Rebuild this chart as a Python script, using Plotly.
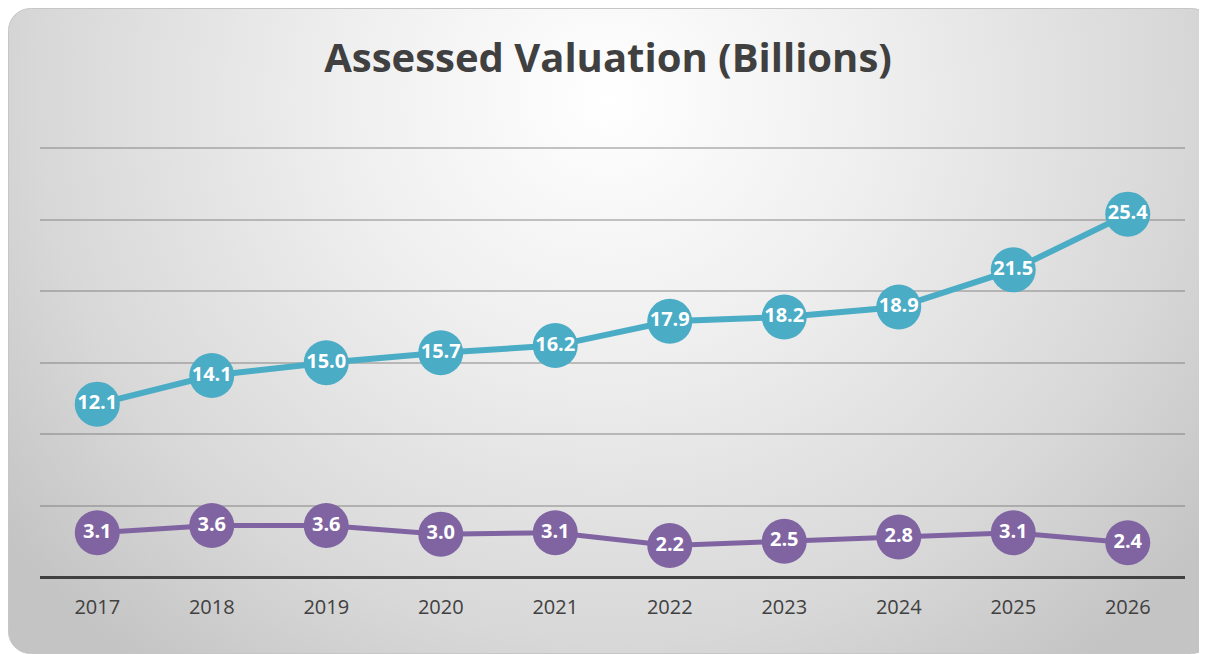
import base64
import plotly.graph_objects as go

years = ["2017", "2018", "2019", "2020", "2021", "2022", "2023", "2024", "2025", "2026"]
series_a = [12.1, 14.1, 15.0, 15.7, 16.2, 17.9, 18.2, 18.9, 21.5, 25.4]
series_b = [3.1, 3.6, 3.6, 3.0, 3.1, 2.2, 2.5, 2.8, 3.1, 2.4]

# page has an 8px body margin; figure coordinates = page - 8
W, H = 1199, 646
ML, MR, MT, MB = 32, 22, 139, 77

svg = f'''<svg xmlns="http://www.w3.org/2000/svg" width="{W}" height="{H}" viewBox="0 0 {W} {H}">
<defs><radialGradient id="g" gradientUnits="userSpaceOnUse" cx="600" cy="90" r="760" gradientTransform="translate(600 90) scale(1 0.95) translate(-600 -90)">
<stop offset="0" stop-color="#ffffff"/><stop offset="0.35" stop-color="#efefef"/><stop offset="0.75" stop-color="#d8d8d8"/><stop offset="1" stop-color="#c4c4c4"/></radialGradient></defs>
<rect x="0.5" y="0.5" width="1205" height="645" rx="22" ry="22" fill="url(#g)" stroke="#c6c6c6" stroke-width="1"/>
</svg>'''
uri = "data:image/svg+xml;base64," + base64.b64encode(svg.encode()).decode()

pw = W - ML - MR
ph = H - MT - MB

label_font = dict(family="Open Sans", size=20, color="white", weight="bold")

fig = go.Figure()
fig.add_trace(go.Scatter(
    x=years, y=series_a, mode="lines+markers+text",
    line=dict(color="#4BACC6", width=6),
    marker=dict(color="#4BACC6", size=45),
    text=[f"{v:.1f}" for v in series_a], textposition="middle center",
    textfont=label_font, showlegend=False, cliponaxis=False,
))
fig.add_trace(go.Scatter(
    x=years, y=series_b, mode="lines+markers+text",
    line=dict(color="#8064A2", width=5),
    marker=dict(color="#8064A2", size=45),
    text=[f"{v:.1f}" for v in series_b], textposition="middle center",
    textfont=label_font, showlegend=False, cliponaxis=False,
))

fig.add_layout_image(dict(
    source=uri, xref="paper", yref="paper",
    x=-ML / pw, y=1 + MT / ph, sizex=W / pw, sizey=H / ph,
    xanchor="left", yanchor="top", sizing="stretch", layer="below",
))

fig.update_layout(
    width=W, height=H,
    margin=dict(l=ML, r=MR, t=MT, b=MB),
    paper_bgcolor="white", plot_bgcolor="rgba(0,0,0,0)",
    title=dict(text="<b>Assessed Valuation (Billions)</b>", x=(608 - 8) / W, xanchor="center",
               y=1 - 50 / H, yanchor="middle", yref="container",
               font=dict(family="Open Sans", size=40, color="#404040")),
    xaxis=dict(type="category", range=[-0.5, 9.5], showgrid=False, zeroline=False,
               showline=False, ticks="", ticklabelstandoff=16,
               tickfont=dict(family="Open Sans", size=20, color="#404040")),
    yaxis=dict(range=[0, 30.1], tickvals=[5, 10, 15, 20, 25, 30], showticklabels=False, showgrid=True,
               gridcolor="rgba(110,110,110,0.4)", gridwidth=1.5, zeroline=True,
               zerolinecolor="#404040", zerolinewidth=3, showline=False, ticks=""),
    font=dict(family="Open Sans"),
)

fig.write_html("out.html")
